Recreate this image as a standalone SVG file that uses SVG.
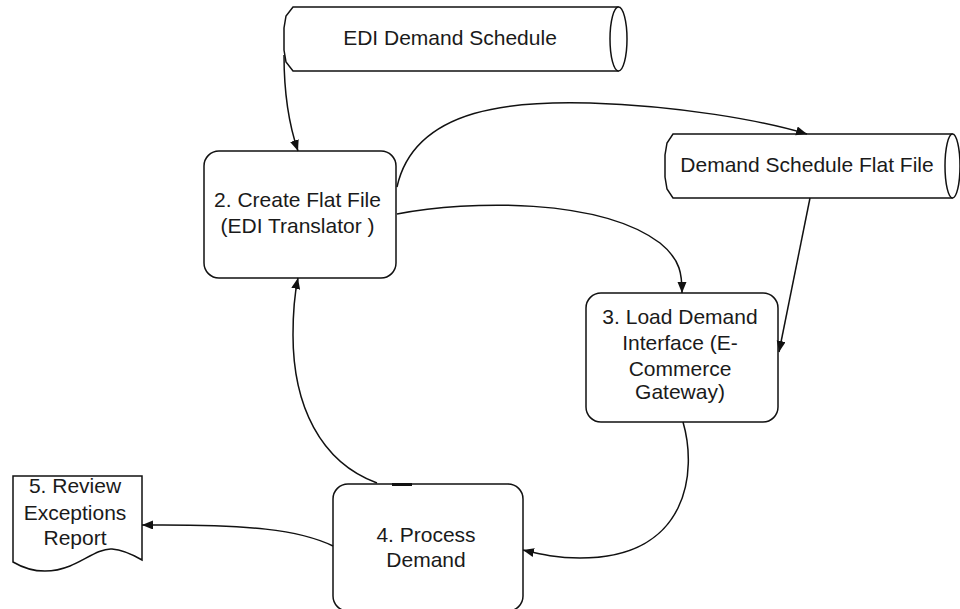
<svg xmlns="http://www.w3.org/2000/svg" width="960" height="609" viewBox="0 0 960 609">
  <style>
    .shape { fill: #ffffff; stroke: #111111; stroke-width: 1.5; }
    .edge { fill: none; stroke: #111111; stroke-width: 1.5; }
    .label { font-family: "Liberation Sans", Arial, sans-serif; font-size: 21px; fill: #1a1a1a; text-anchor: middle; }
  </style>
  <defs>
    <marker id="arrow" markerUnits="userSpaceOnUse" markerWidth="14" markerHeight="12" refX="11" refY="4.5" orient="auto">
      <path d="M0,0 L11,4.5 L0,9 Z" fill="#111111"/>
    </marker>
  </defs>
  <rect width="960" height="609" fill="#ffffff"/>

  <!-- Data stores (horizontal cylinders) -->
  <g id="edi-demand-schedule">
    <path class="shape" d="M293,7 L618,7 L618,71 L293,71 L286,62 L284,50 L284,28 L286,16 Z"/>
    <ellipse class="shape" cx="618.5" cy="39" rx="8.5" ry="32"/>
    <text class="label" x="450" y="45">EDI Demand Schedule</text>
  </g>

  <g id="flat-file">
    <path class="shape" d="M673,134 L952,134 L952,198 L673,198 L667,189 L665,177 L665,155 L667,143 Z"/>
    <ellipse class="shape" cx="952.5" cy="166" rx="7.5" ry="32"/>
    <text class="label" x="807" y="172">Demand Schedule Flat File</text>
  </g>

  <!-- Process steps -->
  <g id="create-flat-file">
    <rect class="shape" x="204" y="151" width="192" height="127" rx="15" ry="15"/>
    <text class="label" x="297.5" y="207">2. Create Flat File</text>
    <text class="label" x="297.5" y="233">(EDI Translator )</text>
  </g>

  <g id="load-demand-interface">
    <rect class="shape" x="586" y="293" width="192" height="129" rx="15" ry="15"/>
    <text class="label" x="680" y="324">3. Load Demand</text>
    <text class="label" x="680" y="350">Interface (E-</text>
    <text class="label" x="680" y="376">Commerce</text>
    <text class="label" x="680" y="399">Gateway)</text>
  </g>

  <g id="process-demand">
    <rect class="shape" x="333" y="484" width="190" height="127" rx="15" ry="15"/>
    <text class="label" x="426" y="542">4. Process</text>
    <text class="label" x="426" y="567">Demand</text>
  </g>

  <!-- Report document -->
  <g id="exceptions-report">
    <path class="shape" d="M13,476 L142,476 L142,560 C135,556 125,550 112,549 C100,548 85,560 70,566 C50,574 30,572 13,562 Z"/>
    <text class="label" x="75" y="493">5. Review</text>
    <text class="label" x="75" y="520">Exceptions</text>
    <text class="label" x="75" y="545">Report</text>
  </g>

  <!-- Connectors -->
  <g id="connectors">
    <path class="edge" marker-end="url(#arrow)" d="M284,55 C284,95 289,125 298,151"/>
    <path class="edge" marker-end="url(#arrow)" d="M397,187 C415,105 520,101 590,103 C680,106 760,120 807,134"/>
    <path class="edge" marker-end="url(#arrow)" d="M397,214 C470,200 600,198 660,243 C681,260 682,275 682,293"/>
    <path class="edge" marker-end="url(#arrow)" d="M810,198 L779,352"/>
    <path class="edge" marker-end="url(#arrow)" d="M683,422 C697,470 690,558 580,558 C556,558 540,554 523,550"/>
    <path class="edge" marker-end="url(#arrow)" d="M377,483 C320,462 293,405 293,335 C293,305 295,292 298,278"/>
    <path class="edge" marker-end="url(#arrow)" d="M333,546 C300,530 250,524 142,525"/>
    <line x1="392" y1="484.5" x2="412" y2="484.5" stroke="#111111" stroke-width="3"/>
  </g>
</svg>
